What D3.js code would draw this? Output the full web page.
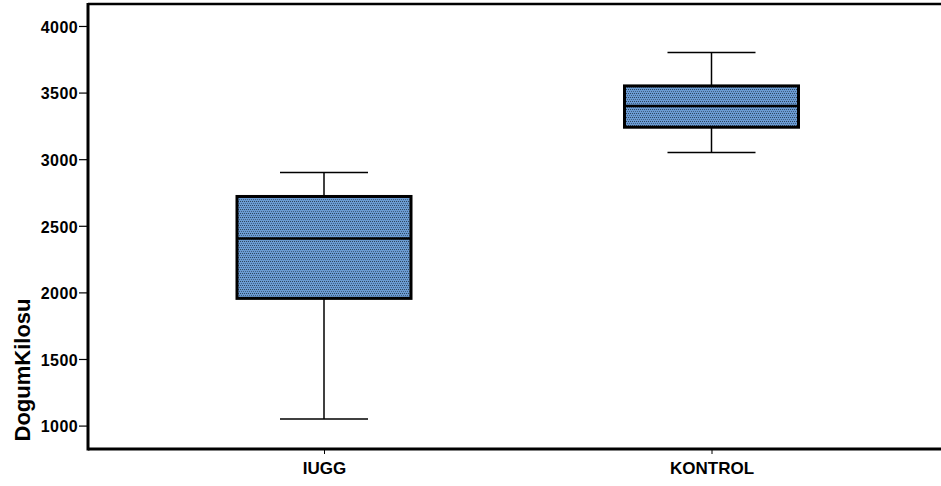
<!DOCTYPE html>
<html>
<head>
<meta charset="utf-8">
<script src="https://cdn.jsdelivr.net/npm/d3@7"></script>
<style>
  body { margin: 0; background: #fff; }
  text { font-family: "Liberation Sans", Arial, sans-serif; font-weight: bold; }
</style>
</head>
<body>
<svg id="chart"></svg>
<script>
// gruplar ve kutu istatistikleri
const groups = ["IUGG", "KONTROL"];
const minVals = [1050, 3050];
const q1Vals = [1955, 3240];
const medians = [2405, 3400];
const q3Vals = [2720, 3550];
const maxVals = [2900, 3800];
const yTicks = [1000, 1500, 2000, 2500, 3000, 3500, 4000];

const width = 941, height = 486;
const marginLeft = 88, marginTop = 4, marginRight = 0, marginBottom = 37;

const svg = d3.select("#chart")
  .attr("width", width)
  .attr("height", height);

// desen (noktali mavi dolgu)
const defs = svg.append("defs");
const pat = defs.append("pattern")
  .attr("id", "dots")
  .attr("patternUnits", "userSpaceOnUse")
  .attr("width", 4)
  .attr("height", 4);
pat.append("rect").attr("width", 4).attr("height", 4).attr("fill", "#6b9bd2");
pat.append("rect").attr("x", 0).attr("y", 1).attr("width", 1).attr("height", 1).attr("fill", "#2d4560");
pat.append("rect").attr("x", 2).attr("y", 1).attr("width", 1).attr("height", 1).attr("fill", "#2d4560");
pat.append("rect").attr("x", 1).attr("y", 3).attr("width", 1).attr("height", 1).attr("fill", "#3f5f85");
pat.append("rect").attr("x", 3).attr("y", 3).attr("width", 1).attr("height", 1).attr("fill", "#3f5f85");

const x = d3.scalePoint()
  .domain(groups)
  .range([324, 711.5]);

const y = d3.scaleLinear()
  .domain([828, 4165])
  .range([height - marginBottom - 0.5, marginTop]);

const boxW = 174, capW = 88;

// cerceve
svg.append("line")
  .attr("x1", marginLeft).attr("x2", width)
  .attr("y1", marginTop).attr("y2", marginTop)
  .attr("stroke", "#000").attr("stroke-width", 2.5);

// y ekseni
const yAxis = svg.append("g")
  .attr("transform", `translate(${marginLeft},0)`)
  .call(d3.axisLeft(y).tickValues(yTicks).tickSize(9).tickPadding(1).tickFormat(d3.format("d")));
yAxis.select(".domain").remove();
yAxis.selectAll(".tick line").attr("stroke-width", 1.2);
yAxis.selectAll(".tick text")
  .attr("font-size", 16)
  .attr("letter-spacing", 0.4)
  .attr("dy", "0.4em")
  .attr("fill", "#000");

// x ekseni
const xAxis = svg.append("g")
  .attr("transform", `translate(0,${height - marginBottom})`)
  .call(d3.axisBottom(x).tickSize(5).tickPadding(11));
xAxis.select(".domain").remove();
xAxis.selectAll(".tick line").attr("stroke-width", 1);
xAxis.selectAll(".tick text")
  .attr("font-size", 17)
  .attr("y", 0)
  .attr("dy", 0)
  .attr("transform", "translate(0,25)")
  .attr("fill", "#000");

svg.append("line")
  .attr("x1", marginLeft).attr("x2", width)
  .attr("y1", height - marginBottom).attr("y2", height - marginBottom)
  .attr("stroke", "#000").attr("stroke-width", 3);
svg.append("line")
  .attr("x1", marginLeft).attr("x2", marginLeft)
  .attr("y1", marginTop - 1).attr("y2", height - marginBottom + 1.5)
  .attr("stroke", "#000").attr("stroke-width", 3);

// y baslik
svg.append("text")
  .attr("transform", "translate(30,370) rotate(-90)")
  .attr("text-anchor", "middle")
  .attr("font-size", 22)
  .text("DogumKilosu");

// kutular
const g = svg.append("g");
groups.forEach((grp, i) => {
  const cx = x(grp);
  // biyik
  g.append("line")
    .attr("x1", cx).attr("x2", cx)
    .attr("y1", y(maxVals[i])).attr("y2", y(q3Vals[i]))
    .attr("stroke", "#000").attr("stroke-width", 1.5);
  g.append("line")
    .attr("x1", cx).attr("x2", cx)
    .attr("y1", y(q1Vals[i])).attr("y2", y(minVals[i]))
    .attr("stroke", "#000").attr("stroke-width", 1.5);
  g.append("line")
    .attr("x1", cx - capW / 2).attr("x2", cx + capW / 2)
    .attr("y1", y(maxVals[i])).attr("y2", y(maxVals[i]))
    .attr("stroke", "#000").attr("stroke-width", 1.5);
  g.append("line")
    .attr("x1", cx - capW / 2).attr("x2", cx + capW / 2)
    .attr("y1", y(minVals[i])).attr("y2", y(minVals[i]))
    .attr("stroke", "#000").attr("stroke-width", 1.5);
  // kutu
  g.append("rect")
    .attr("x", cx - boxW / 2)
    .attr("y", y(q3Vals[i]))
    .attr("width", boxW)
    .attr("height", y(q1Vals[i]) - y(q3Vals[i]))
    .attr("fill", "url(#dots)")
    .attr("stroke", "#000")
    .attr("stroke-width", 3);
  // medyan
  g.append("line")
    .attr("x1", cx - boxW / 2).attr("x2", cx + boxW / 2)
    .attr("y1", y(medians[i])).attr("y2", y(medians[i]))
    .attr("stroke", "#000").attr("stroke-width", 2.5);
});
</script>
</body>
</html>
